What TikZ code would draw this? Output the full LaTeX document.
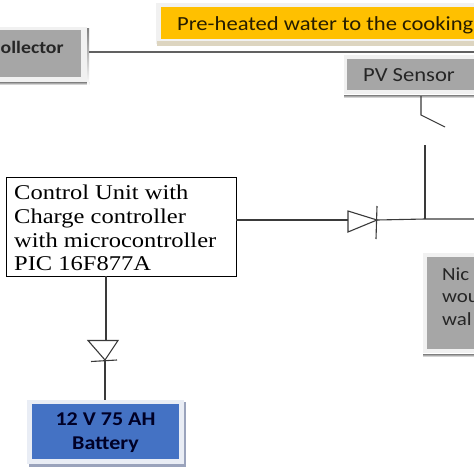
\documentclass[tikz,border=0pt]{standalone}
\usepackage{fontspec}
\setmainfont[FakeStretch=1.167]{Liberation Serif}
\newfontfamily\boxfont[FakeStretch=1.13]{Carlito}
\definecolor{boxgrey}{HTML}{A6A6A6}
\definecolor{halo}{HTML}{F1F1F1}
\definecolor{shade}{HTML}{A9A9A9}
\definecolor{wire}{HTML}{3A3A3A}
\definecolor{sun}{HTML}{FFC000}
\definecolor{sunshade}{HTML}{DDD5C0}
\definecolor{batt}{HTML}{4472C4}
\definecolor{halob}{HTML}{E9EDF5}
\definecolor{shadeb}{HTML}{9AA3BC}
\definecolor{ink}{HTML}{262626}
\tikzset{
  wireline/.style={draw=wire,line width=1.1pt},
  boxlabel/.style={inner sep=0pt,anchor=base west,text=ink,font=\boxfont\fontsize{20}{20}\selectfont},
  niclabel/.style={boxlabel,font=\boxfont\fontsize{18.5}{20}\selectfont},
  boldlabel/.style={boxlabel,font=\boxfont\bfseries\fontsize{17.5}{18}\selectfont},
  ctrl/.style={draw=black,line width=0.9pt,fill=white,minimum width=230pt,minimum height=99pt,inner sep=0pt},
}
\begin{document}
\begin{tikzpicture}[x=1pt,y=-1pt]
\useasboundingbox (0,0) rectangle (474,474);
\clip (0,0) rectangle (474,474);
\fill[white] (0,0) rectangle (474,474);
% yellow banner
\fill[halo] (156,3) rectangle (474,44);
\fill[sunshade] (157,41) rectangle (474,46);
\fill[sun] (161,7) rectangle (474,39);
\node[boxlabel,text=black!85!sun] (water) at (177,30) {Pre-heated water to the cooking};
% collector
\fill[halo] (0,27) rectangle (87,84);
\fill[shade] (0,82) rectangle (89,85);
\fill[shade] (87,28) rectangle (89,85);
\fill[boxgrey] (0,30) rectangle (81,77);
\node[boldlabel,text=black!85] (coll) at (0.5,53) {ollector};
\coordinate (collout) at (89,52);
\coordinate (collend) at (474,52);
% PV sensor
\fill[halo] (344,55) rectangle (474,94);
\fill[shade] (344,95) rectangle (474,98);
\fill[boxgrey] (347,59) rectangle (474,90);
\node[boxlabel] (pv) at (363,81) {PV Sensor};
% nichrome
\fill[halo] (423,253) rectangle (474,353);
\fill[shade] (423,354) rectangle (474,357);
\fill[boxgrey] (427,257) rectangle (474,349);
\node[niclabel] (nic1) at (442,280) {Nic};
\node[niclabel] (nic2) at (442,302) {wou};
\node[niclabel] (nic3) at (442,325) {wal};
% battery
\fill[halob] (27,400) rectangle (184,464);
\fill[shadeb] (29,464) rectangle (186,467);
\fill[shadeb] (184,402) rectangle (186,467);
\fill[batt] (32,404) rectangle (179,459);
\node[font=\boxfont\bfseries\fontsize{19.5}{24}\selectfont,text=black!85!blue,align=center,inner sep=0pt] (battery) at (105.5,433) {12 V 75 AH\\Battery};
\coordinate (battop) at (105,400);
% control unit
\node[ctrl] (control) at (121,226.5) {};
\foreach \n/\yy/\t in {a/199/Control Unit with,b/223/Charge controller,c/247/with microcontroller,d/270/PIC 16F877A}{
  \node[inner sep=0pt,anchor=base west,font=\fontsize{21}{21}\selectfont] (ctl\n) at (14,\yy) {\t};
}
% collector line
\draw[wireline,line width=1.4pt,draw=wire!80] (collout) -- (collend);
% horizontal diode
\coordinate (da) at (348,220);
\coordinate (dk) at (377,220);
\coordinate (junction) at (425,219);
\coordinate (rightend) at (474,219);
\coordinate (swfix) at (425,145);
\draw[wireline] (control.east |- da) -- (da);
\draw[wireline,line join=miter] (348,211) -- (348,232) -- (dk) -- cycle;
\draw[wireline] (377,206) -- (376,239);
\draw[wireline] (dk) -- (junction) -- (rightend);
\draw[wireline] (junction) -- (swfix);
% switch
\coordinate (swtop) at (421,96);
\coordinate (swknee) at (421,115);
\coordinate (swtip) at (445,127);
\draw[wireline] (swtop) -- (swknee) -- (swtip);
% vertical diode
\coordinate (va) at (106,340);
\coordinate (vk) at (105,360);
\draw[wireline] (control.south -| va) -- (va);
\draw[wireline,line join=miter] (88,340.5) -- (118,340.5) -- (vk) -- cycle;
\draw[wireline] (91,361.5) -- (117,360);
\draw[wireline] (vk) -- (battop);
\end{tikzpicture}
\end{document}
